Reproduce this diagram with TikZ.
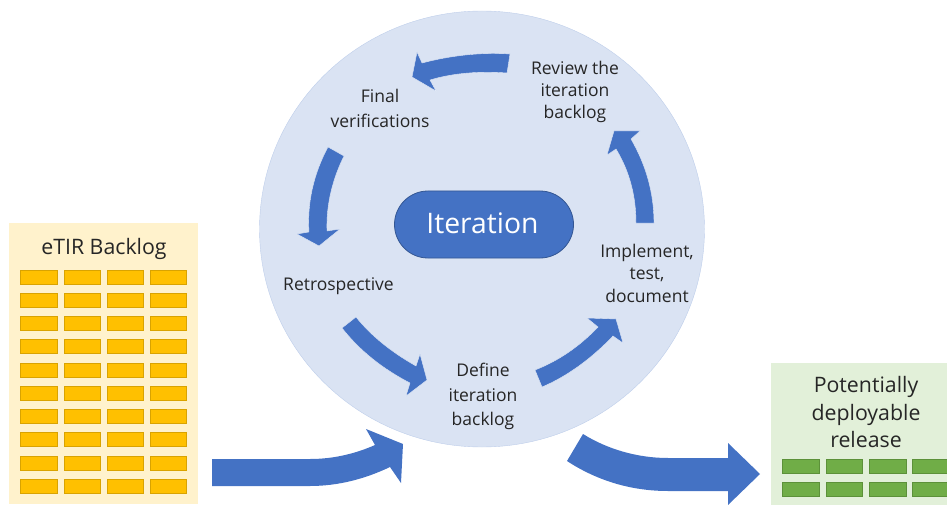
\documentclass[tikz,border=0pt]{standalone}
\usepackage{fontspec}
\setmainfont{Open Sans}
\usetikzlibrary{shapes.geometric,shapes.misc}
\definecolor{blk}{HTML}{4472C4}
\definecolor{cyc}{HTML}{DAE3F3}
\definecolor{ybar}{HTML}{FFC000}
\definecolor{ybord}{HTML}{D9A300}
\definecolor{gbar}{HTML}{70AD47}
\definecolor{gbord}{HTML}{5C9139}
\definecolor{ypanel}{HTML}{FFF2CC}
\definecolor{gpanel}{HTML}{E2F0D9}
\tikzset{
  x=1pt,y=-1pt,
  lab/.style={align=center,text=black!85,inner sep=0pt},
  big/.style={align=center,text=black!85,font=\fontsize{21.3}{27.5}\selectfont,inner sep=0pt},
  bigarrow/.style={fill=blk},
  smallarrow/.style={fill=blk,draw=white!85!blk,line width=.4pt,line join=miter},
  item/.style={draw,line width=1pt,minimum width=36.5pt,minimum height=14pt,inner sep=0pt},
  yitem/.style={item,fill=ybar,draw=ybord},
  gitem/.style={item,fill=gbar,draw=gbord},
}
\begin{document}
\begin{tikzpicture}
\useasboundingbox (0,0) rectangle (947,505);
% panels
\node[fill=cyc,draw=blk!35,line width=.4pt,ellipse,minimum width=445pt,minimum height=436pt,inner sep=0pt] (cycle) at (482,229) {};
\node[fill=ypanel,minimum width=189pt,minimum height=281pt,inner sep=0pt] (backlog) at (103.5,363.5) {};
\node[fill=gpanel,minimum width=180pt,minimum height=142pt,inner sep=0pt] (release) at (861,434) {};
% backlog items
\foreach \c/\x in {1/39,2/82.3,3/125.7,4/168.7}
  \foreach \r/\y in {1/277,2/300,3/323.3,4/346.7,5/370,6/393.3,7/416.5,8/439.5,9/463,10/486.3}
    \node[yitem] (y\c\r) at (\x,\y) {};
% release items (the last column is cut by the page edge)
\begin{scope}
\clip (0,0) rectangle (947,505);
\foreach \c/\x in {1/801.2,2/844.3,3/887.8,4/931}
  \foreach \r/\y in {1/466.5,2/489.8}
    \node[gitem] (g\c\r) at (\x,\y) {};
\end{scope}
% pill
\node[rounded rectangle,fill=blk,draw=blk!75!black,line width=.8pt,minimum width=179pt,minimum height=67pt,inner sep=0pt,text=white,font=\fontsize{28.3}{32}\selectfont] (iter) at (484,224.5) {};
\node[text=white,font=\fontsize{28.3}{32}\selectfont,inner sep=0pt] (itertext) at (482.5,223.5) {Iteration};
% labels
\node[big] (tbacklog) at (104,249) {eTIR Backlog};
\node[big] (trelease) at (866,412.5) {Potentially\\deployable\\release};
\node[lab,font=\fontsize{17.5}{22}\selectfont] (review) at (575,92) {Review the\\iteration\\backlog};
\node[lab,font=\fontsize{17.5}{25}\selectfont] (final) at (380,108.5) {Final\\verifications};
\node[lab,font=\fontsize{17.5}{24}\selectfont] (retro) at (338.5,286.5) {Retrospective};
\node[lab,font=\fontsize{17.5}{24.5}\selectfont] (define) at (483,396.5) {Define\\iteration\\backlog};
\node[lab,font=\fontsize{17.5}{22.5}\selectfont] (impl) at (647,273) {Implement,\\test,\\document};
% large arrows
\path[bigarrow] (212,459) -- (310,459) .. controls (335,459) and (357,453) .. (375,445)
  -- (366,429) -- (403,444) -- (401,483) -- (390,467)
  .. controls (365,479) and (338,486) .. (310,486) -- (212,486) -- cycle;
\path[bigarrow] (583,434) .. controls (607,449) and (637,458) .. (668,458) -- (728,458)
  -- (728,443) -- (760,474) -- (728,505) -- (728,491) -- (668,491)
  .. controls (630,491) and (596,480) .. (567,461) -- cycle;
% cycle arrows
\path[smallarrow] (510,54) .. controls (478,52) and (449,56) .. (422,63)
  -- (417,52) -- (412,77) -- (436,91) -- (430,80)
  .. controls (453,73) and (480,71) .. (507,73) -- cycle;
\path[smallarrow] (328,147) .. controls (314,173) and (307,202) .. (309,232)
  -- (297,234) -- (319,246) -- (340,229) -- (327,231)
  .. controls (326,204) and (333,178) .. (344,156) -- cycle;
\path[smallarrow] (356,317) .. controls (372,337) and (393,353) .. (416,366)
  -- (420,354) -- (427,380) -- (406,396) -- (410,383)
  .. controls (383,369) and (360,351) .. (342,328) -- cycle;
\path[smallarrow] (535,370) .. controls (558,361) and (579,347) .. (598,327)
  -- (587,318) -- (616,319) -- (623,343) -- (613,336)
  .. controls (592,358) and (568,376) .. (542,387) -- cycle;
\path[smallarrow] (654,223) .. controls (654,193) and (646,165) .. (631,139)
  -- (640,131) -- (614,131) -- (607,155) -- (616,149)
  .. controls (630,172) and (636,197) .. (636,223) -- cycle;
\end{tikzpicture}
\end{document}
